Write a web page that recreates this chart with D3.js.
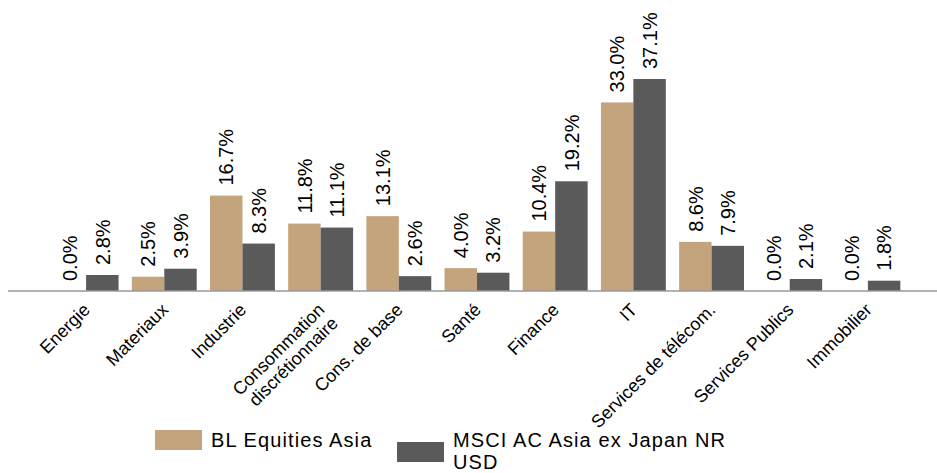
<!DOCTYPE html>
<html>
<head>
<meta charset="utf-8">
<script src="https://cdnjs.cloudflare.com/ajax/libs/d3/7.8.5/d3.min.js"></script>
<style>
body { margin: 0; background: #fff; }
text { font-family: "Liberation Sans", Arial, sans-serif; fill: #000; }
</style>
</head>
<body>
<div id="chart-area"></div>
<script>
// data
var categories = ["Energie", "Materiaux", "Industrie", "Consommation|discrétionnaire", "Cons. de base",
	"Santé", "Finance", "IT", "Services de télécom.", "Services Publics", "Immobilier"];
var fund = [0.0, 2.5, 16.7, 11.8, 13.1, 4.0, 10.4, 33.0, 8.6, 0.0, 0.0];
var index = [2.8, 3.9, 8.3, 11.1, 2.6, 3.2, 19.2, 37.1, 7.9, 2.1, 1.8];
var seriesNames = ["BL Equities Asia", "MSCI AC Asia ex Japan NR|USD"];
var colors = ["#c4a47c", "#5a5a5a"];

var width = 937,
	height = 473;

var svg = d3.select("#chart-area").append("svg")
	.attr("width", width)
	.attr("height", height);

var baseline = 291;

var x = d3.scaleBand()
	.domain(categories)
	.range([47, 907])
	.paddingInner(0.17)
	.paddingOuter(0.085);

var xSub = d3.scaleBand()
	.domain([0, 1])
	.range([0, x.bandwidth()]);

var y = d3.scaleLinear()
	.domain([0, 40])
	.range([baseline, baseline - 40 * 5.714]);

// one row per category, value per series
var rows = categories.map(function(c, i) {
	return {cat: c, vals: [fund[i], index[i]]};
});

var groups = svg.selectAll(".cat")
	.data(rows)
	.enter()
	.append("g")
	.attr("class", "cat")
	.attr("transform", function(d) { return "translate(" + x(d.cat) + ",0)"; });

groups.selectAll("rect")
	.data(function(d) { return d.vals; })
	.enter()
	.append("rect")
	.attr("x", function(d, i) { return xSub(i); })
	.attr("width", xSub.bandwidth())
	.attr("y", function(d) { return y(d); })
	.attr("height", function(d) { return baseline - y(d); })
	.attr("fill", function(d, i) { return colors[i]; });

// value labels, rotated
groups.selectAll("text.val")
	.data(function(d) { return d.vals; })
	.enter()
	.append("text")
	.attr("class", "val")
	.attr("transform", function(d, i) {
		return "translate(" + (xSub(i) + xSub.bandwidth() / 2) + "," + (y(d) - 10) + ") rotate(-90)";
	})
	.attr("dy", "0.36em")
	.style("font-size", "20px")
	.text(function(d) { return d.toFixed(1) + "%"; });

// axis line
svg.append("line")
	.attr("x1", 8)
	.attr("x2", 937)
	.attr("y1", baseline)
	.attr("y2", baseline)
	.attr("stroke", "#9a9a9a")
	.attr("stroke-width", 1.5);

// category labels
var catLabels = svg.selectAll(".catlabel")
	.data(categories)
	.enter()
	.append("text")
	.attr("class", "catlabel")
	.attr("text-anchor", "end")
	.attr("transform", function(d) {
		return "translate(" + (x(d) + x.bandwidth() / 2 + 5) + "," + (baseline + 20) + ") rotate(-45)";
	})
	.style("font-size", "18px");

catLabels.each(function(d) {
	var parts = d.split("|");
	var t = d3.select(this);
	parts.forEach(function(p, j) {
		t.append("tspan")
			.attr("x", 0)
			.attr("dy", j == 0 ? 0 : "1.05em")
			.text(p);
	});
});

// legend
var legX = [155, 397],
	legY = [430, 442];

var legend = svg.selectAll(".legend")
	.data(seriesNames)
	.enter()
	.append("g")
	.attr("class", "legend");

legend.append("rect")
	.attr("x", function(d, i) { return legX[i]; })
	.attr("y", function(d, i) { return legY[i]; })
	.attr("width", 47)
	.attr("height", 20)
	.attr("fill", function(d, i) { return colors[i]; });

legend.append("text")
	.attr("x", function(d, i) { return legX[i] + 56; })
	.attr("y", 447)
	.style("font-size", "20px")
	.style("letter-spacing", "1.1px")
	.each(function(d) {
		var t = d3.select(this);
		var lx = +t.attr("x");
		d.split("|").forEach(function(p, j) {
			t.append("tspan")
				.attr("x", lx)
				.attr("dy", j == 0 ? 0 : 22)
				.text(p);
		});
	});
</script>
</body>
</html>
